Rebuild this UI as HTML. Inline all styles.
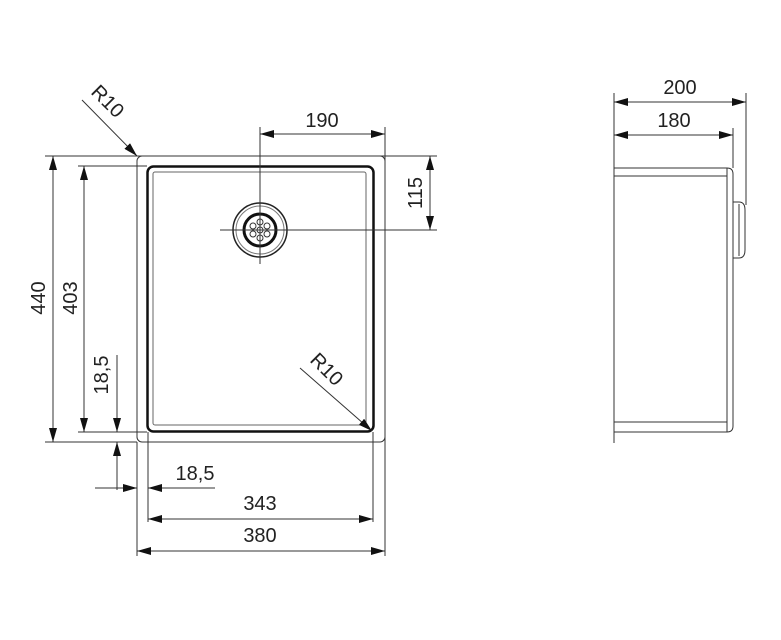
<!DOCTYPE html>
<html><head><meta charset="utf-8"><style>
html,body{margin:0;padding:0;background:#fff;}
svg{display:block;}
text{font-family:"Liberation Sans",Arial,sans-serif;font-size:20px;fill:#222;}
</style></head><body>
<svg width="781" height="640" viewBox="0 0 781 640" xmlns="http://www.w3.org/2000/svg">
<defs>
<marker id="a" viewBox="0 0 14 8" refX="14" refY="4" markerWidth="14" markerHeight="8" markerUnits="userSpaceOnUse" orient="auto-start-reverse">
<path d="M0,0 L14,4 L0,8 z" fill="#111"/></marker>
</defs>
<g stroke="#333" stroke-width="1" fill="none">
<!-- outer sink -->
<rect x="137" y="156" width="248" height="286" rx="5"/>
<!-- bowl -->
<rect x="147.5" y="166.5" width="226" height="265" rx="6" stroke="#111" stroke-width="2.5"/>
<rect x="153" y="172" width="213" height="253" rx="2" stroke="#666"/>
<!-- drain -->
<circle cx="260" cy="230" r="27" stroke="#222" stroke-width="1.5"/>
<circle cx="260" cy="230" r="24" stroke="#777"/>
<circle cx="260" cy="230" r="16" stroke="#111" stroke-width="3"/>
<circle cx="260" cy="230" r="3"/>
<circle cx="260" cy="222" r="3"/><circle cx="260" cy="238" r="3"/>
<circle cx="253" cy="226" r="3"/><circle cx="267" cy="226" r="3"/>
<circle cx="253" cy="234" r="3"/><circle cx="267" cy="234" r="3"/>
<!-- center lines -->
<line x1="260" y1="127" x2="260" y2="264"/>
<line x1="220" y1="230" x2="437" y2="230"/>
<!-- extension lines -->
<line x1="45" y1="156" x2="437" y2="156"/>
<line x1="78" y1="166" x2="147" y2="166"/>
<line x1="78" y1="432" x2="147" y2="432"/>
<line x1="45" y1="442" x2="137" y2="442"/>
<line x1="385" y1="127" x2="385" y2="556"/>
<line x1="137" y1="442" x2="137" y2="556"/>
<line x1="148" y1="432" x2="148" y2="522"/>
<line x1="373" y1="432" x2="373" y2="522"/>
<!-- dims -->
<line x1="260" y1="134" x2="385" y2="134" marker-start="url(#a)" marker-end="url(#a)"/>
<line x1="430" y1="156" x2="430" y2="230" marker-start="url(#a)" marker-end="url(#a)"/>
<line x1="53" y1="156" x2="53" y2="442" marker-start="url(#a)" marker-end="url(#a)"/>
<line x1="84" y1="166" x2="84" y2="432" marker-start="url(#a)" marker-end="url(#a)"/>
<line x1="117" y1="355" x2="117" y2="432" marker-end="url(#a)"/>
<line x1="117" y1="490" x2="117" y2="442" marker-end="url(#a)"/>
<line x1="95" y1="488" x2="137" y2="488" marker-end="url(#a)"/>
<line x1="215" y1="488" x2="148" y2="488" marker-end="url(#a)"/>
<line x1="148" y1="519" x2="373" y2="519" marker-start="url(#a)" marker-end="url(#a)"/>
<line x1="137" y1="551" x2="385" y2="551" marker-start="url(#a)" marker-end="url(#a)"/>
<line x1="82" y1="100" x2="137" y2="156" marker-end="url(#a)"/>
<line x1="300" y1="368" x2="372" y2="431" marker-end="url(#a)"/>
<!-- side view -->
<line x1="614" y1="93" x2="614" y2="443"/>
<line x1="746" y1="93" x2="746" y2="205"/>
<line x1="733" y1="128" x2="733" y2="168"/>
<line x1="614" y1="102" x2="746" y2="102" marker-start="url(#a)" marker-end="url(#a)"/>
<line x1="614" y1="135" x2="733" y2="135" marker-start="url(#a)" marker-end="url(#a)"/>
<path d="M614,168 H727 Q733,168 733,174 V426 Q733,432 727,432 H614"/>
<line x1="614" y1="176" x2="727" y2="176"/>
<line x1="614" y1="422" x2="727" y2="422"/>
<line x1="727" y1="168" x2="727" y2="432"/>
<path d="M733,202 H739 Q745,202 745,210 V250 Q745,258 739,258 H733"/>
<line x1="739" y1="204" x2="739" y2="256"/>
</g>
<text x="322" y="127" text-anchor="middle">190</text>
<text x="260" y="510" text-anchor="middle">343</text>
<text x="260" y="542" text-anchor="middle">380</text>
<text x="195" y="480" text-anchor="middle">18,5</text>
<text x="680" y="94" text-anchor="middle">200</text>
<text x="674" y="127" text-anchor="middle">180</text>
<text transform="translate(422,193) rotate(-90)" text-anchor="middle">115</text>
<text transform="translate(45,298) rotate(-90)" text-anchor="middle">440</text>
<text transform="translate(77,298) rotate(-90)" text-anchor="middle">403</text>
<text transform="translate(108,375) rotate(-90)" text-anchor="middle">18,5</text>
<text transform="translate(103,106) rotate(45)" text-anchor="middle">R10</text>
<text transform="translate(322,374) rotate(45)" text-anchor="middle">R10</text>
</svg>
</body></html>
